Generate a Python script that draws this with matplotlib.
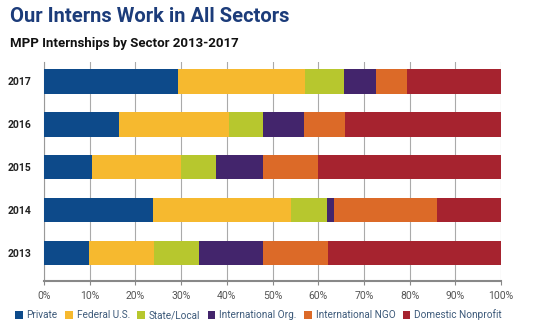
import matplotlib.pyplot as plt
import numpy as np

plt.rcParams['font.family'] = ['Roboto', 'DejaVu Sans']

years = ['2017', '2016', '2015', '2014', '2013']
sectors = ['Private', 'Federal U.S.', 'State/Local', 'International Org.',
           'International NGO', 'Domestic Nonprofit']
# share of internships (%) per year, order follows `years`
private = [29.4, 16.4, 10.4, 23.9, 9.9]
federal = [27.8, 24.0, 19.6, 30.2, 14.2]
state_local = [8.5, 7.5, 7.6, 7.9, 9.8]
intl_org = [6.9, 8.9, 10.3, 1.5, 14.0]
intl_ngo = [6.9, 9.1, 12.0, 22.4, 14.2]
domestic = [20.5, 34.1, 40.1, 14.1, 37.9]

colors = ['#0d4a8a', '#f6b92f', '#b7c72e', '#43256c', '#dc6a28', '#a6232f']

fig = plt.figure(figsize=(5.53, 3.35), dpi=100)
ax = fig.add_axes([44 / 553, 1 - 281 / 335, 457 / 553, (281 - 62) / 335])

data = [private, federal, state_local, intl_org, intl_ngo, domestic]
ypos = np.arange(len(years))[::-1]
left = np.zeros(len(years))
for vals, name, c in zip(data, sectors, colors):
    ax.barh(ypos, vals, left=left, height=0.57, color=c, label=name, zorder=3)
    left += np.array(vals)

ax.set_xlim(0, 100)
ax.set_ylim(-0.65, 4.45)
ax.set_xticks(np.arange(0, 101, 10))
ax.set_xticklabels([f'{v}%' for v in range(0, 101, 10)], fontsize=7.5, color='#555555')
ax.set_yticks(ypos)
ax.set_yticklabels(years, fontsize=7.5, fontweight='bold', color='#222222')
ax.tick_params(axis='y', length=0, pad=9)
ax.tick_params(axis='x', length=3, color='#888888', pad=4)
ax.grid(axis='x', color='#aaaaaa', linewidth=0.8, zorder=0)
for s in ['top', 'right']:
    ax.spines[s].set_visible(False)
ax.spines['left'].set_color('#999999')
ax.spines['bottom'].set_color('#888888')
ax.spines['bottom'].set_linewidth(1.5)

fig.text(10 / 553, 1 - 16 / 335, 'Our Interns Work in All Sectors', fontsize=14.5,
         fontweight='bold', color='#1c3c7a', va='center')
fig.text(10 / 553, 1 - 44 / 335, 'MPP Internships by Sector 2013-2017', fontsize=9.5,
         fontweight='bold', color='#111111', va='center')

leg = fig.legend(loc='center left', bbox_to_anchor=(6 / 553, 1 - 315 / 335), ncol=6,
                 frameon=False, fontsize=7.2, handlelength=0.75, handleheight=0.75,
                 handletextpad=0.4, columnspacing=0.75)
for t in leg.get_texts():
    t.set_color('#3d5a7a')

fig.savefig('out.png', dpi=100)
